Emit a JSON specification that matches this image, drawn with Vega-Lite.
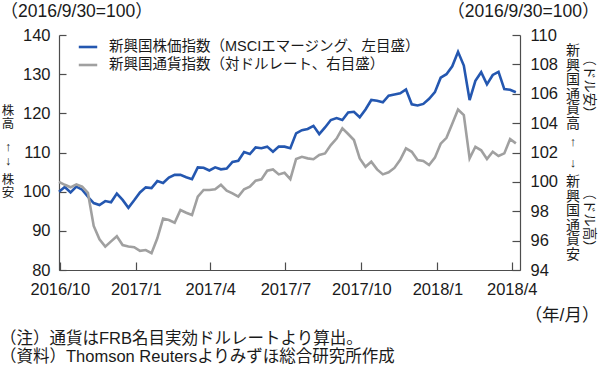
{
  "$schema": "https://vega.github.io/schema/vega-lite/v6.json",
  "width": 461,
  "height": 235,
  "autosize": {"type": "none"},
  "padding": {"left": 59, "top": 35, "right": 80, "bottom": 99},
  "background": "white",
  "config": {
    "font": "Liberation Sans, Noto Sans CJK JP",
    "view": {"stroke": null},
    "axis": {"grid": false, "domainColor": "#4d4d4d", "tickColor": "#4d4d4d", "labelColor": "#1a1a1a", "titleColor": "#1a1a1a", "labelFontSize": 16.5, "titleFontSize": 17.5, "titleFontWeight": "normal", "domainWidth": 1.2, "tickWidth": 1.2},
    "text": {"color": "#1a1a1a"}
  },
  "title": {
    "text": ["（注）通貨はFRB名目実効ドルレートより算出。", "（資料）Thomson Reutersよりみずほ総合研究所作成"],
    "orient": "bottom", "anchor": "start", "frame": "group", "dx": -59, "offset": 7,
    "fontSize": 16.5, "fontWeight": "normal", "lineHeight": 18, "color": "#1a1a1a"
  },
  "data": {"values": [
    {"date": "2016-09-30", "stock": 100.0, "fx": 100.0},
    {"date": "2016-10-07", "stock": 101.2, "fx": 99.8},
    {"date": "2016-10-14", "stock": 99.8, "fx": 99.63},
    {"date": "2016-10-21", "stock": 101.3, "fx": 99.83},
    {"date": "2016-10-28", "stock": 100.5, "fx": 99.67},
    {"date": "2016-11-04", "stock": 98.7, "fx": 99.26},
    {"date": "2016-11-11", "stock": 97.1, "fx": 97.0},
    {"date": "2016-11-18", "stock": 96.6, "fx": 96.09},
    {"date": "2016-11-25", "stock": 97.6, "fx": 95.59},
    {"date": "2016-12-02", "stock": 97.3, "fx": 95.95},
    {"date": "2016-12-09", "stock": 99.5, "fx": 96.3},
    {"date": "2016-12-16", "stock": 97.9, "fx": 95.7},
    {"date": "2016-12-23", "stock": 95.9, "fx": 95.6},
    {"date": "2016-12-30", "stock": 97.8, "fx": 95.55},
    {"date": "2017-01-06", "stock": 99.8, "fx": 95.3},
    {"date": "2017-01-13", "stock": 101.1, "fx": 95.36},
    {"date": "2017-01-20", "stock": 100.9, "fx": 95.15},
    {"date": "2017-01-27", "stock": 102.7, "fx": 96.16},
    {"date": "2017-02-03", "stock": 102.2, "fx": 97.5},
    {"date": "2017-02-10", "stock": 103.6, "fx": 97.4},
    {"date": "2017-02-17", "stock": 104.3, "fx": 97.22},
    {"date": "2017-02-24", "stock": 104.3, "fx": 98.08},
    {"date": "2017-03-03", "stock": 103.7, "fx": 97.9},
    {"date": "2017-03-10", "stock": 103.2, "fx": 97.74},
    {"date": "2017-03-17", "stock": 106.2, "fx": 98.99},
    {"date": "2017-03-24", "stock": 106.1, "fx": 99.45},
    {"date": "2017-03-31", "stock": 105.4, "fx": 99.45},
    {"date": "2017-04-07", "stock": 106.2, "fx": 99.49},
    {"date": "2017-04-14", "stock": 105.7, "fx": 99.8},
    {"date": "2017-04-21", "stock": 105.9, "fx": 99.4},
    {"date": "2017-04-28", "stock": 107.6, "fx": 99.22},
    {"date": "2017-05-05", "stock": 107.9, "fx": 99.0},
    {"date": "2017-05-12", "stock": 110.1, "fx": 99.5},
    {"date": "2017-05-19", "stock": 109.6, "fx": 99.67},
    {"date": "2017-05-26", "stock": 111.3, "fx": 100.08},
    {"date": "2017-06-02", "stock": 111.1, "fx": 100.17},
    {"date": "2017-06-09", "stock": 111.5, "fx": 100.76},
    {"date": "2017-06-16", "stock": 110.2, "fx": 100.85},
    {"date": "2017-06-23", "stock": 111.5, "fx": 100.51},
    {"date": "2017-06-30", "stock": 111.5, "fx": 100.62},
    {"date": "2017-07-07", "stock": 111.1, "fx": 100.19},
    {"date": "2017-07-14", "stock": 114.9, "fx": 101.56},
    {"date": "2017-07-21", "stock": 115.7, "fx": 101.71},
    {"date": "2017-07-28", "stock": 116.0, "fx": 101.6},
    {"date": "2017-08-04", "stock": 116.8, "fx": 101.54},
    {"date": "2017-08-11", "stock": 114.7, "fx": 101.83},
    {"date": "2017-08-18", "stock": 116.4, "fx": 101.94},
    {"date": "2017-08-25", "stock": 118.3, "fx": 102.51},
    {"date": "2017-09-01", "stock": 118.8, "fx": 102.95},
    {"date": "2017-09-08", "stock": 118.3, "fx": 103.65},
    {"date": "2017-09-15", "stock": 120.2, "fx": 103.26},
    {"date": "2017-09-22", "stock": 120.4, "fx": 102.85},
    {"date": "2017-09-29", "stock": 119.0, "fx": 101.6},
    {"date": "2017-10-06", "stock": 121.0, "fx": 101.03},
    {"date": "2017-10-13", "stock": 123.4, "fx": 101.37},
    {"date": "2017-10-20", "stock": 123.2, "fx": 100.85},
    {"date": "2017-10-27", "stock": 122.8, "fx": 100.51},
    {"date": "2017-11-03", "stock": 124.5, "fx": 100.65},
    {"date": "2017-11-10", "stock": 124.8, "fx": 100.95},
    {"date": "2017-11-17", "stock": 125.1, "fx": 101.5},
    {"date": "2017-11-24", "stock": 126.1, "fx": 102.28},
    {"date": "2017-12-01", "stock": 122.3, "fx": 102.05},
    {"date": "2017-12-08", "stock": 122.0, "fx": 101.49},
    {"date": "2017-12-15", "stock": 122.4, "fx": 101.43},
    {"date": "2017-12-22", "stock": 123.7, "fx": 101.15},
    {"date": "2017-12-29", "stock": 125.4, "fx": 101.65},
    {"date": "2018-01-05", "stock": 129.1, "fx": 102.6},
    {"date": "2018-01-12", "stock": 130.0, "fx": 103.0},
    {"date": "2018-01-19", "stock": 132.0, "fx": 103.95},
    {"date": "2018-01-26", "stock": 135.7, "fx": 104.93},
    {"date": "2018-02-02", "stock": 132.2, "fx": 104.55},
    {"date": "2018-02-09", "stock": 123.4, "fx": 101.6},
    {"date": "2018-02-16", "stock": 128.3, "fx": 102.39},
    {"date": "2018-02-23", "stock": 130.5, "fx": 102.15},
    {"date": "2018-03-02", "stock": 127.4, "fx": 101.56},
    {"date": "2018-03-09", "stock": 129.8, "fx": 102.05},
    {"date": "2018-03-16", "stock": 130.6, "fx": 101.76},
    {"date": "2018-03-23", "stock": 126.2, "fx": 101.94},
    {"date": "2018-03-30", "stock": 126.0, "fx": 102.92},
    {"date": "2018-04-06", "stock": 125.4, "fx": 102.62}
  ]},
  "layer": [
    {
      "mark": {"type": "line", "strokeWidth": 2.6, "strokeJoin": "miter"},
      "encoding": {
        "x": {
          "field": "date", "type": "temporal",
          "scale": {"type": "utc", "domain": [{"year": 2016, "month": 9, "date": 30, "utc": true}, {"year": 2018, "month": 4, "date": 11, "utc": true}]},
          "axis": {
            "values": [
              {"year": 2016, "month": 10, "date": 1, "utc": true},
              {"year": 2017, "month": 1, "date": 1, "utc": true},
              {"year": 2017, "month": 4, "date": 1, "utc": true},
              {"year": 2017, "month": 7, "date": 1, "utc": true},
              {"year": 2017, "month": 10, "date": 1, "utc": true},
              {"year": 2018, "month": 1, "date": 1, "utc": true},
              {"year": 2018, "month": 4, "date": 1, "utc": true}
            ],
            "format": "%Y/%-m", "tickSize": -8, "labelPadding": 19, "labelFlush": false, "labelOverlap": false,
            "title": "（年/月）", "titleAngle": 0, "titleAlign": "right", "titleBaseline": "middle", "titleX": 540, "titleY": 45
          }
        },
        "y": {
          "field": "stock", "type": "quantitative",
          "scale": {"domain": [80, 140], "nice": false, "zero": false},
          "axis": {
            "orient": "left", "values": [80, 90, 100, 110, 120, 130, 140], "tickSize": -7, "labelPadding": 16,
            "title": "（2016/9/30=100）", "titleAngle": 0, "titleAlign": "left", "titleBaseline": "middle", "titleX": -59, "titleY": -24
          }
        },
        "color": {
          "datum": "新興国株価指数（MSCIエマージング、左目盛）", "type": "nominal",
          "scale": {"domain": ["新興国株価指数（MSCIエマージング、左目盛）", "新興国通貨指数（対ドルレート、右目盛）"], "range": ["#2457b0", "#a0a0a0"]},
          "legend": {"orient": "none", "legendX": 18, "legendY": 1, "direction": "vertical", "title": null, "symbolType": "stroke", "symbolStrokeWidth": 2.6, "symbolSize": 340, "labelFontSize": 14.5, "labelLimit": 0, "labelColor": "#1a1a1a", "rowPadding": 0, "padding": 0, "labelOffset": 10}
        }
      }
    },
    {
      "mark": {"type": "line", "strokeWidth": 2.6, "strokeJoin": "miter"},
      "encoding": {
        "x": {"field": "date", "type": "temporal"},
        "y": {
          "field": "fx", "type": "quantitative",
          "scale": {"domain": [94, 110], "nice": false, "zero": false},
          "axis": {
            "orient": "right", "values": [94, 96, 98, 100, 102, 104, 106, 108, 110], "tickSize": -8, "labelPadding": 18,
            "title": "（2016/9/30=100）", "titleAngle": 0, "titleAlign": "right", "titleBaseline": "middle", "titleX": 79, "titleY": -24
          }
        },
        "color": {"datum": "新興国通貨指数（対ドルレート、右目盛）", "type": "nominal"}
      }
    },
    {
      "data": {"values": [{}]},
      "mark": {"type": "text", "text": ["株", "高"], "fontSize": 12.5, "lineHeight": 13, "align": "center", "baseline": "middle"},
      "encoding": {"x": {"value": -51}, "y": {"value": 76}}
    },
    {
      "data": {"values": [{}]},
      "mark": {"type": "text", "text": ["↑", "↓"], "fontSize": 12.5, "lineHeight": 14, "align": "center", "baseline": "middle"},
      "encoding": {"x": {"value": -51}, "y": {"value": 112}}
    },
    {
      "data": {"values": [{}]},
      "mark": {"type": "text", "text": ["株", "安"], "fontSize": 12.5, "lineHeight": 13, "align": "center", "baseline": "middle"},
      "encoding": {"x": {"value": -51}, "y": {"value": 145}}
    },
    {
      "data": {"values": [{}]},
      "mark": {"type": "text", "text": ["新", "興", "国", "通", "貨", "高"], "fontSize": 14, "lineHeight": 14.5, "align": "center", "baseline": "middle"},
      "encoding": {"x": {"value": 514}, "y": {"value": 16}}
    },
    {
      "data": {"values": [{}]},
      "mark": {"type": "text", "text": ["↑", "↓"], "fontSize": 13, "lineHeight": 21, "align": "center", "baseline": "middle"},
      "encoding": {"x": {"value": 514}, "y": {"value": 107}}
    },
    {
      "data": {"values": [{}]},
      "mark": {"type": "text", "text": ["新", "興", "国", "通", "貨", "安"], "fontSize": 14, "lineHeight": 14.5, "align": "center", "baseline": "middle"},
      "encoding": {"x": {"value": 514}, "y": {"value": 147}}
    },
    {
      "data": {"values": [{}]},
      "mark": {"type": "text", "text": "（ドル安）", "fontSize": 13.5, "angle": 90, "align": "center", "baseline": "middle"},
      "encoding": {"x": {"value": 530}, "y": {"value": 51}}
    },
    {
      "data": {"values": [{}]},
      "mark": {"type": "text", "text": "（ドル高）", "fontSize": 13.5, "angle": 90, "align": "center", "baseline": "middle"},
      "encoding": {"x": {"value": 530}, "y": {"value": 185}}
    }
  ],
  "resolve": {"scale": {"y": "independent"}}
}
